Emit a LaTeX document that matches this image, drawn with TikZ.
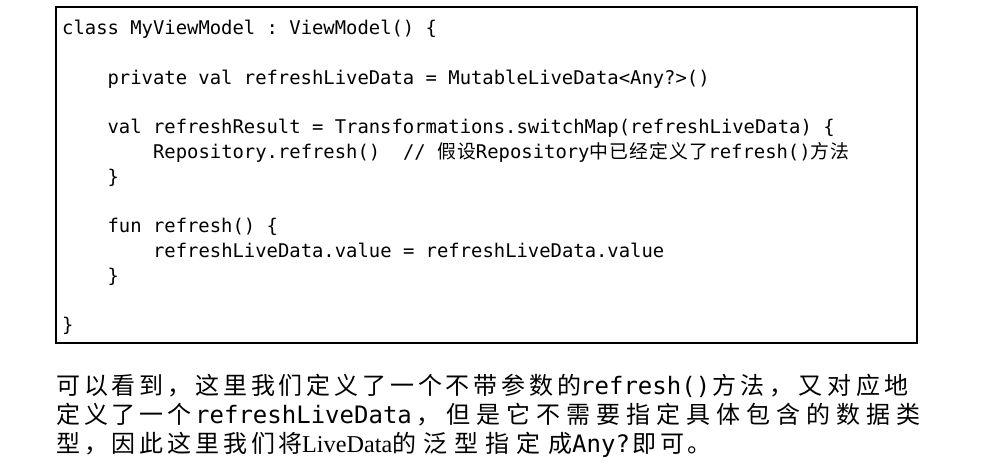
\documentclass[tikz,border=0pt]{standalone}
\usepackage{fontspec}
\setmonofont{DejaVu Sans Mono}
\newfontfamily\cjkcode[LetterSpace=6]{Noto Sans CJK SC}
\newfontfamily\cjkbody[LetterSpace=16]{Noto Sans CJK SC}
\newfontfamily\cjkmid[LetterSpace=20]{Noto Sans CJK SC}
\newfontfamily\cjkwide[LetterSpace=25]{Noto Sans CJK SC}
\newfontfamily\cjkwider[LetterSpace=30]{Noto Sans CJK SC}
\newfontfamily\latinserif{Liberation Serif}
\begin{document}
\begin{tikzpicture}[x=1pt,y=-1pt,
  code/.style={anchor=base west,inner sep=0pt,font=\fontsize{18.87}{22}\selectfont\ttfamily},
  bodycjk/.style={anchor=base west,inner sep=0pt,font=\fontsize{24}{28}\selectfont\cjkbody},
  bodymid/.style={anchor=base west,inner sep=0pt,font=\fontsize{24}{28}\selectfont\cjkmid},
  bodywide/.style={anchor=base west,inner sep=0pt,font=\fontsize{24}{28}\selectfont\cjkwide},
  bodywider/.style={anchor=base west,inner sep=0pt,font=\fontsize{24}{28}\selectfont\cjkwider},
  bodymono/.style={anchor=base west,inner sep=0pt,font=\fontsize{24}{28}\selectfont\ttfamily},
  bodyserif/.style={anchor=base west,inner sep=0pt,font=\fontsize{24.2}{28}\selectfont\latinserif},
  frame/.style={draw=black,line width=2pt}]
\useasboundingbox (0,0) rectangle (986,475);
\fill[white] (0,0) rectangle (986,475);
\draw[frame] (55.5,7) rectangle (917,343);
% code lines
\node[code] (c1) at (62,34) {class MyViewModel : ViewModel() \{};
\node[code] (c2) at (107.4,84) {private val refreshLiveData = MutableLiveData<Any?>()};
\node[code] (c3) at (107.4,133) {val refreshResult = Transformations.switchMap(refreshLiveData) \{};
\node[code] (c4) at (152.9,158) {Repository.refresh()~~// {\cjkcode 假设}Repository{\cjkcode 中已经定义了}refresh(){\cjkcode 方法}};
\node[code] (c5) at (107.4,183) {\}};
\node[code] (c6) at (107.4,232) {fun refresh() \{};
\node[code] (c7) at (152.9,257) {refreshLiveData.value = refreshLiveData.value};
\node[code] (c8) at (107.4,282) {\}};
\node[code] (c9) at (62,331) {\}};
% body text line 1
\node[bodycjk] (b1a) at (56,394) {可以看到，这里我们定义了一个不带参数的};
\node[bodymono] (b1b) at (580,394) {refresh()};
\node[bodymid] (b1c) at (712,394) {方法，又对应地};
% line 2
\node[bodycjk] (b2a) at (56,423) {定义了一个};
\node[bodymono] (b2b) at (195,423) {refreshLiveData};
\node[bodywide] (b2c) at (416,423) {，但是它不需要指定具体包含的数据类};
% line 3
\node[bodycjk] (b3a) at (56,452) {型，因此这里我们将};
\node[bodyserif] (b3b) at (302,452) {LiveData};
\node[bodywider] (b3c) at (392,452) {的泛型指定成};
\node[bodymono] (b3d) at (572,452) {Any?};
\node[bodycjk] (b3e) at (632,452) {即可。};
\end{tikzpicture}
\end{document}
